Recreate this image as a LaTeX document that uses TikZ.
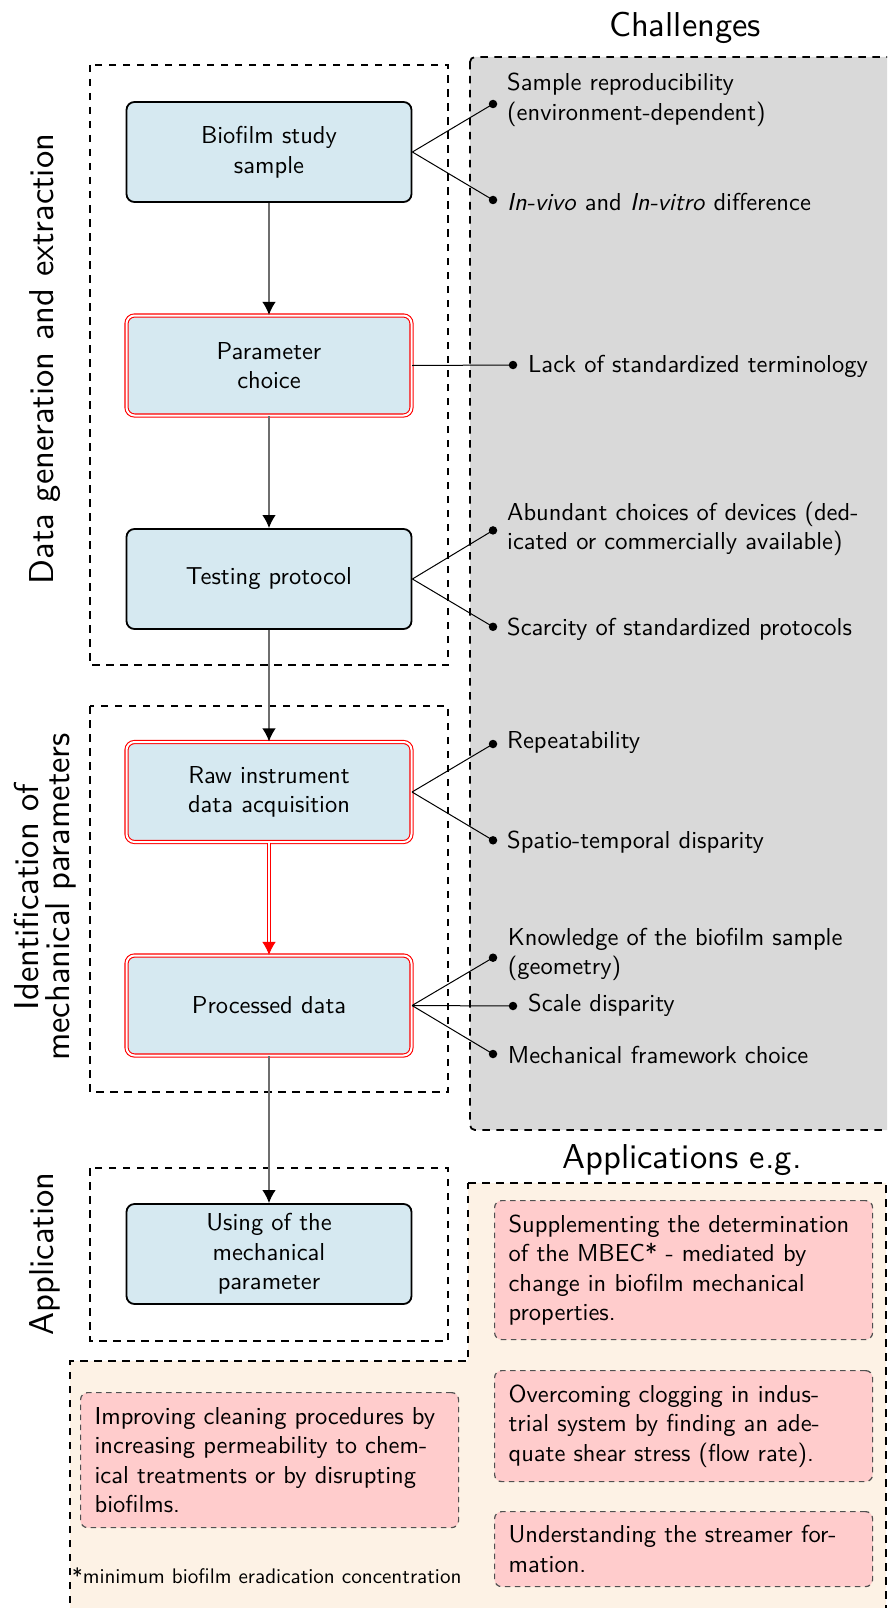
\documentclass[tikz,border=0pt]{standalone}
\usepackage{fontspec}
\setsansfont{lmsans10-regular.otf}[ItalicFont=lmsans10-oblique.otf,BoldFont=lmsans10-bold.otf,BoldItalicFont=lmsans10-boldoblique.otf]
\usetikzlibrary{arrows.meta}
\definecolor{nodeblue}{RGB}{214,233,241}
\definecolor{chalgrey}{RGB}{217,217,217}
\definecolor{apporange}{RGB}{253,242,229}
\definecolor{apppink}{RGB}{255,204,204}
\definecolor{pinkedge}{RGB}{80,80,80}
\definecolor{arrowgrey}{RGB}{110,110,110}
\newcommand\bodyfont{\sffamily\fontsize{24.5}{29.5}\selectfont}
\newcommand\bigfont{\sffamily\fontsize{34.5}{31}\selectfont}
\newcommand\notefont{\sffamily\fontsize{21.1}{25}\selectfont}
\tikzset{
  groupbox/.style={draw=black, line width=1.8pt, dash pattern=on 7.5pt off 6.5pt},
  flowbox/.style={rectangle, rounded corners=8pt, draw=black, line width=1.8pt, fill=nodeblue,
     minimum width=285pt, minimum height=100pt, align=center, font=\bodyfont, inner sep=2pt},
  keybox/.style={flowbox, draw=red, line width=1.1pt, double=white, double distance=2pt},
  flowarrow/.style={draw=arrowgrey, line width=1.5pt, -{Latex[length=13pt,width=13.5pt,color=black]}},
  keyarrow/.style={draw=red, line width=1pt, double=white, double distance=1.4pt, -{Latex[length=13pt,width=13.5pt]}},
  dotmark/.style={circle, fill=black, inner sep=0pt, minimum size=8.5pt},
  conn/.style={draw=black, line width=1pt},
  chaltext/.style={anchor=base west, inner sep=0pt, align=left, font=\bodyfont},
  pinkbox/.style={rectangle, rounded corners=7pt, draw=pinkedge, line width=1.2pt, dash pattern=on 5.5pt off 4.5pt,
     fill=apppink, text width=350pt, inner xsep=14pt, inner ysep=0pt, align=left, font=\bodyfont, anchor=north west},
  sidelabel/.style={rotate=90, inner sep=0pt, align=center, font=\bigfont},
  titletext/.style={anchor=base, inner sep=0pt, font=\bigfont},
}
\begin{document}
\begin{tikzpicture}[x=1pt,y=-1pt]
\path[use as bounding box] (0,0) rectangle (887,1608);
\clip (0,0) rectangle (887,1608);
% background regions
\draw[groupbox, fill=chalgrey, rounded corners=5pt] (470,57) rectangle (910,1130);
\draw[groupbox, fill=apporange] (468,1183) -- (886,1183) -- (886,1630) -- (70,1630) -- (70,1361) -- (468,1361) -- cycle;
\draw[groupbox] (90,65) rectangle (448,665);
\draw[groupbox] (90,706) rectangle (448,1092);
\draw[groupbox] (90,1168) rectangle (448,1341);
% titles
\node[titletext] (chtitle) at (685,36.5) {Challenges};
\node[titletext] (aptitle) at (682,1168) {Applications e.g.};
% side labels
\node[sidelabel, anchor=base] (lab1) at (53.3,359) {Data generation and extraction};
\node[sidelabel] (lab2) at (45.2,897) {Identification of\\mechanical parameters};
\node[sidelabel, anchor=base] (lab3) at (53.3,1254) {Application};
% flow nodes
\node[flowbox] (n1) at (269,152) {Biofilm study\\sample};
\node[keybox] (n2) at (269,365.5) {Parameter\\choice};
\node[flowbox] (n3) at (269,579) {Testing protocol};
\node[keybox] (n4) at (269,792) {Raw instrument\\data acquisition};
\node[keybox] (n5) at (269,1005.5) {Processed data};
\node[flowbox] (n6) at (269,1254) {Using of the\\mechanical\\parameter};
% flow arrows
\draw[flowarrow] (n1.south) -- (n2.north);
\draw[flowarrow] (n2.south) -- (n3.north);
\draw[flowarrow] (n3.south) -- (n4.north);
\draw[keyarrow] (n4.south) -- (n5.north);
\draw[flowarrow] (n5.south) -- (n6.north);
% challenge dots
\node[dotmark] (d1) at (493,104) {};
\node[dotmark] (d2) at (493,200) {};
\node[dotmark] (d3) at (513,365) {};
\node[dotmark] (d4) at (493,530.4) {};
\node[dotmark] (d5) at (493,626.8) {};
\node[dotmark] (d6) at (493,744) {};
\node[dotmark] (d7) at (493,840.3) {};
\node[dotmark] (d8) at (493,957.7) {};
\node[dotmark] (d9) at (513,1006) {};
\node[dotmark] (d10) at (493,1054) {};
\draw[conn] (n1.east) -- (d1.center);
\draw[conn] (n1.east) -- (d2.center);
\draw[conn] (n2.east) -- (d3.center);
\draw[conn] (n3.east) -- (d4.center);
\draw[conn] (n3.east) -- (d5.center);
\draw[conn] (n4.east) -- (d6.center);
\draw[conn] (n4.east) -- (d7.center);
\draw[conn] (n5.east) -- (d8.center);
\draw[conn] (n5.east) -- (d9.center);
\draw[conn] (n5.east) -- (d10.center);
% challenge texts (multi-line: base is the last line)
\node[chaltext] (t1) at (507,120.5) {Sample reproducibility\\(environment-dependent)};
\node[chaltext] (t2) at (507,211) {\textit{In-vivo} and \textit{In-vitro} difference};
\node[chaltext] (t3) at (528,372) {Lack of standardized terminology};
\node[chaltext] (t4) at (507,549.5) {Abundant choices of devices (ded-\\icated or commercially available)};
\node[chaltext] (t5) at (507,635.4) {Scarcity of standardized protocols};
\node[chaltext] (t6) at (507,748.4) {Repeatability};
\node[chaltext] (t7) at (507,848.2) {Spatio-temporal disparity};
\node[chaltext] (t8) at (507.7,974.5) {Knowledge of the biofilm sample\\(geometry)};
\node[chaltext] (t9) at (528,1011.7) {Scale disparity};
\node[chaltext] (t10) at (507.7,1063) {Mechanical framework choice};
% application boxes
\node[pinkbox, minimum height=139pt] (p1) at (494,1200) {Supplementing the determination\\of the MBEC* - mediated by\\change in biofilm mechanical\\properties.};
\node[pinkbox, minimum height=111pt] (p2) at (494,1370) {Overcoming clogging in indus-\\trial system by finding an ade-\\quate shear stress (flow rate).};
\node[pinkbox, minimum height=75pt] (p3) at (494,1511) {Understanding the streamer for-\\mation.};
\node[pinkbox, minimum height=135pt] (p4) at (80,1392) {Improving cleaning procedures by\\increasing permeability to chem-\\ical treatments or by disrupting\\biofilms.};
\node[anchor=base west, inner sep=0pt, font=\notefont] (fn) at (72,1583) {*minimum biofilm eradication concentration};
\end{tikzpicture}
\end{document}
